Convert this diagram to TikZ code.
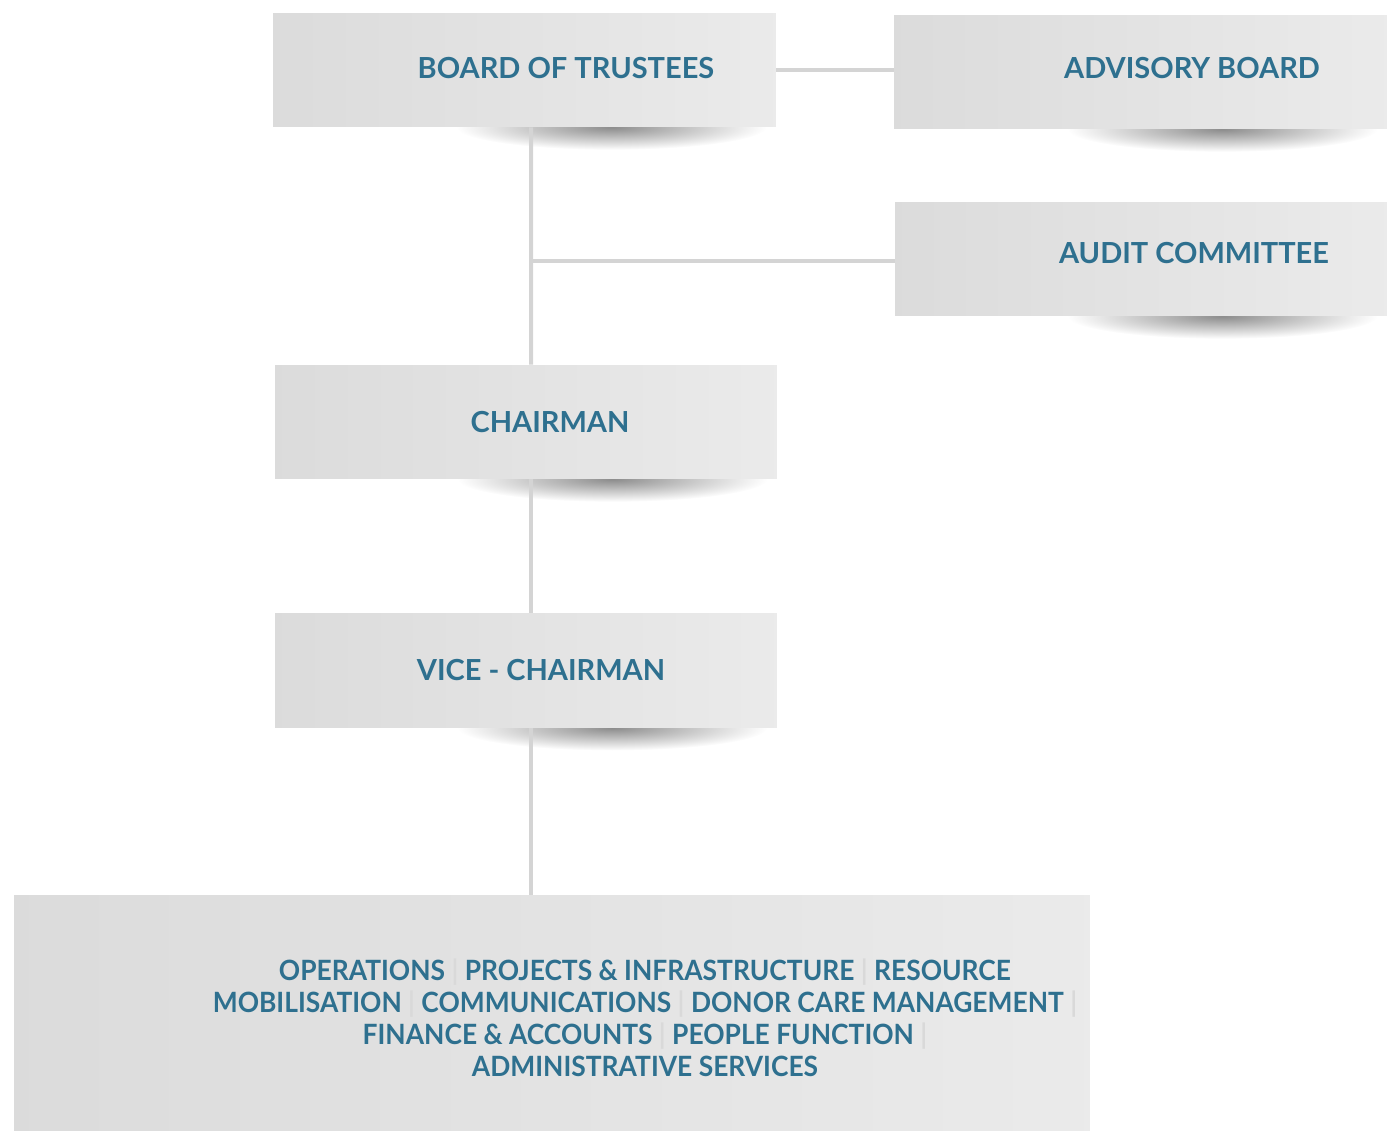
\documentclass[tikz,border=0pt]{standalone}
\usepackage{fontspec}
\setmainfont{Lato}
\newfontfamily\unitsfont{Lato}[FakeStretch=0.945]
\usetikzlibrary{positioning,calc,backgrounds}
\definecolor{boxtext}{RGB}{46,112,143}
\newcommand{\vbar}{\textcolor{black!15}{|}}
\tikzset{
node distance = 2.68cm and 2cm,
   box/.style = {%
    shape=rectangle,
    inner sep=0pt,
    draw=none,
    left color=black!14,
    right color=black!8,
    minimum height=2.28cm},
 title/.style = {%
    text=boxtext,
    font=\fontsize{16.5}{18}\selectfont\bfseries},
 link/.style = {%
    draw=black!17,
    line width=0.08cm},
 curl/.style = {%
    inner color=black!45,
    outer color=white},
    }

\begin{document}
\begin{tikzpicture}[x=0.02cm, y=-0.02cm]
    \useasboundingbox (0,0) rectangle (1387,1130);
    % boxes
    \node[box, minimum width=10.06cm] (bot) at (524.5,70) {};
    \node[box, minimum width=9.86cm] (adv) at (1140.5,72) {};
    \node[box, minimum width=9.84cm] (audit) at (1141,259) {};
    \node[box, minimum width=10.04cm] (chair) at (526,422) {};
    \node[box, minimum width=10.04cm, below=of chair] (vice) {};
    \node[box, minimum width=21.52cm, minimum height=4.8cm] (units) at (552,1015) {};
    % labels
    \node[title] (bot-t) at (566,68) {BOARD OF TRUSTEES};
    \node[title] (adv-t) at (1192,68) {ADVISORY BOARD};
    \node[title] (audit-t) at (1194,253) {AUDIT COMMITTEE};
    \node[title] (chair-t) at (550,422) {CHAIRMAN};
    \node[title] (vice-t) at (541,670) {VICE - CHAIRMAN};
    \node[title, align=center, font=\unitsfont\fontsize{15.9}{18.2}\selectfont\bfseries] (units-t) at (645,1018)
        {OPERATIONS \vbar{} PROJECTS \& INFRASTRUCTURE \vbar{} RESOURCE\\
         MOBILISATION \vbar{} COMMUNICATIONS \vbar{} DONOR CARE MANAGEMENT \vbar\\
         FINANCE \& ACCOUNTS \vbar{} PEOPLE FUNCTION \vbar\\
         ADMINISTRATIVE SERVICES};
    % connectors
    \coordinate (j) at (531,261);
    \draw[link] (bot.east) -- (bot.east -| adv.west);
    \draw[link] ($(bot.south)+(6.5,0)$) -- ($(chair.north)+(5,0)$);
    \draw[link] (j) -- (j -| audit.west);
    \draw[link] ($(chair.south)+(5,0)$) -- ($(vice.north)+(5,0)$);
    \draw[link] ($(vice.south)+(5,0)$) -- ($(units.north)+(-21,0)$);
    % shadows
    \begin{scope}[on background layer]
        \foreach \b in {bot,adv,audit,chair,vice}
            \shade[curl] ($(\b.south east)+(-165,0)$) ellipse [x radius=3.1cm, y radius=0.45cm];
    \end{scope}
\end{tikzpicture}
\end{document}
